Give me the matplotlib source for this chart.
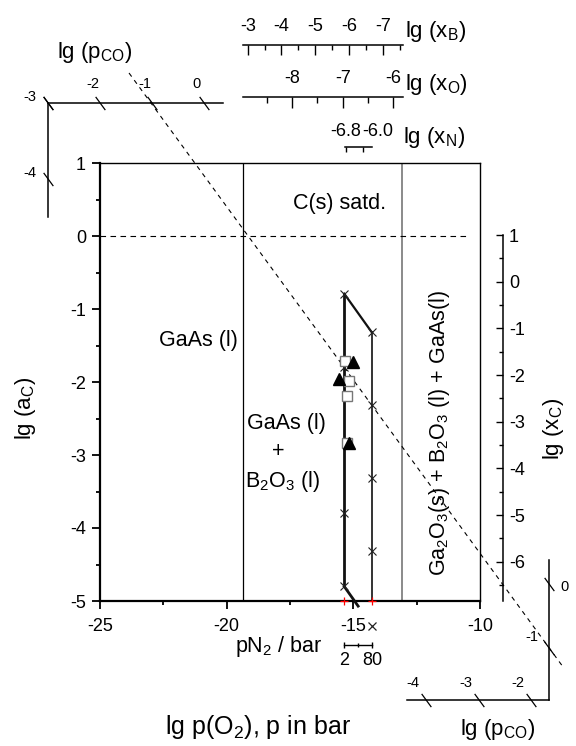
import numpy as np
import matplotlib
matplotlib.use("Agg")
import matplotlib.pyplot as plt
import matplotlib.transforms as mtransforms
from matplotlib.path import Path

plt.rcParams['font.family'] = ['Liberation Sans', 'DejaVu Sans']
plt.rcParams['mathtext.default'] = 'regular'
plt.rcParams['axes.unicode_minus'] = False

# ---------------- data ----------------
phase_boundary_x = [-19.34]          # GaAs(l) | GaAs(l)+B2O3(l)
ga2o3_boundary_x = [-13.09]          # -> Ga2O3(s)+B2O3(l)+GaAs(l)
c_satd_y = [0.0]
c_satd_x_end = -10.47

pn2_labels = ['2', '80']
pn2_x = [-15.36, -14.27]
cross_2bar_y = [-0.79, -1.79, -3.80, -4.80]
cross_80bar_y = [-1.32, -2.32, -3.32, -4.32]
tail_x, tail_y = [-14.81], [-5.07]

squares_x = [-15.34, -15.16, -15.24, -15.25]
squares_y = [-1.71, -1.98, -2.19, -2.84]
tri_x = [-15.00, -15.57, -15.16]
tri_y = [-1.72, -1.96, -2.84]

iso_pco_x = [-23.855, -6.72]
iso_pco_y = [2.233, -5.904]

main_xticks = [-25, -20, -15, -10]
main_yticks = [-5, -4, -3, -2, -1, 0, 1]

xB_ticks = [-3, -4, -5, -6, -7]
xO_ticks = [-8, -7, -6]
xN_ticks = [-6.8, -6.0]
xC_ticks = [-6, -5, -4, -3, -2, -1, 0, 1]

pco_tl_h = [-3, -2, -1, 0]
pco_tl_v = [-3, -4]
pco_br_h = [-4, -3, -2]
pco_br_v = [0, -1]

# ---------------- figure ----------------
W, H = 576, 746
fig = plt.figure(figsize=(W / 100, H / 100), dpi=100)
fig.patch.set_facecolor('white')

def fx(px):
    return px / W

def fy(py):
    return 1 - py / H

TL = 13      # tick label size
REG = 15.5   # region labels
BIG = 16     # axis titles

ax = fig.add_axes([fx(100), fy(601), 380 / W, 438 / H])
ax.set_xlim(-25, -10)
ax.set_ylim(-5, 1)
ax.set_xticks(main_xticks)
ax.set_xticks([-22.5, -17.5, -12.5], minor=True)
ax.set_yticks(main_yticks)
ax.set_yticks(np.arange(-4.5, 1, 1.0), minor=True)
ax.set_xticklabels([str(v) for v in main_xticks])
ax.set_yticklabels([str(v) for v in main_yticks])
ax.tick_params(which='major', direction='out', length=6, width=1.3, labelsize=TL, pad=4)
ax.tick_params(which='minor', direction='out', length=3, width=1.3)
ax.tick_params(axis='x', pad=6)
for s in ['top', 'right']:
    ax.spines[s].set_linewidth(1.0)
for s in ['left', 'bottom']:
    ax.spines[s].set_linewidth(1.6)

# phase boundaries
for xv in phase_boundary_x:
    ax.plot([xv, xv], [-5, 1], color='black', lw=0.9, zorder=2)
for xv in ga2o3_boundary_x:
    ax.plot([xv, xv], [-5, 1], color='#8a8a8a', lw=1.4, zorder=2)
for yv in c_satd_y:
    ax.plot([-25, c_satd_x_end], [yv, yv], color='black', lw=0.8, ls=(0, (5, 4)), zorder=2)

# iso p(CO) line
ax.plot(iso_pco_x, iso_pco_y, color='black', lw=0.8, ls=(0, (4, 4)), clip_on=False, zorder=3)

# pN2 lines
x2, x80 = pn2_x
ax.plot([x2, x2], [cross_2bar_y[0], cross_2bar_y[-1]], color='#111111', lw=2.0, zorder=4)
ax.plot([x2, x80], [cross_2bar_y[0], cross_80bar_y[0]], color='#111111', lw=1.6, zorder=4)
ax.plot([x80, x80], [cross_80bar_y[0], -5], color='#111111', lw=1.2, zorder=4)
ax.plot([x2, tail_x[0]], [cross_2bar_y[-1], tail_y[0]], color='#111111', lw=2.0, zorder=4, clip_on=False)
ax.plot([x2] * len(cross_2bar_y), cross_2bar_y, ls='none', marker='x', ms=6, mew=0.8, color='#222222', zorder=5)
ax.plot([x80] * len(cross_80bar_y), cross_80bar_y, ls='none', marker='x', ms=6, mew=0.8, color='#222222', zorder=5)
ax.plot(pn2_x, [-5, -5], ls='none', marker='+', ms=6, mew=0.9, color='red', zorder=6, clip_on=False)

# measurements
ax.plot(squares_x, squares_y, ls='none', marker='s', ms=7, mfc='white', mec='#777777', mew=1.0, zorder=6)
ax.plot(tri_x, tri_y, ls='none', marker='^', ms=8, mfc='black', mec='black', zorder=7)

# region labels
ax.text(-21.13, -1.425, 'GaAs (l)', fontsize=REG, ha='center', va='center')
ax.text(-15.53, 0.452, 'C(s) satd.', fontsize=REG, ha='center', va='center')
ax.text(-17.66, -2.562, 'GaAs (l)', fontsize=REG, ha='center', va='center')
ax.text(-17.96, -2.955, '+', fontsize=REG, ha='center', va='center')
ax.text(-17.78, -3.366, 'B$_2$O$_3$ (l)', fontsize=REG, ha='center', va='center')
ax.text(-11.58, -2.70, 'Ga$_2$O$_3$(s) + B$_2$O$_3$ (l) + GaAs(l)', fontsize=REG,
        ha='center', va='center', rotation=90)

# pN2 legend under axis
blend = mtransforms.blended_transform_factory(ax.transData, ax.transAxes)
ax.plot([x80], [-0.057], transform=blend, marker='x', ms=6, mew=0.9, color='#222222', clip_on=False)
yb = -0.1005
ax.plot(pn2_x, [yb, yb], transform=blend, color='black', lw=1.0, marker='|', ms=5, mew=1.0, clip_on=False)
ax.plot([np.mean(pn2_x)], [yb], transform=blend, color='black', marker='|', ms=2.5, mew=1.0, clip_on=False)
for xv, lab in zip(pn2_x, pn2_labels):
    ax.text(xv, -0.1363, lab, transform=blend, fontsize=TL, ha='center', va='center')

# ---------------- upper mole fraction axes ----------------
def top_axis(left, right, ytop, xlim, major, minor, maj_len, min_len, pad):
    a = fig.add_axes([fx(left), fy(ytop + 10), (right - left) / W, 10 / H])
    a.patch.set_visible(False)
    for s in ['bottom', 'left', 'right']:
        a.spines[s].set_visible(False)
    a.spines['top'].set_linewidth(1.1)
    a.set_xlim(*xlim)
    a.set_yticks([])
    a.xaxis.tick_top()
    a.set_xticks(major)
    if minor:
        a.set_xticks(minor, minor=True)
    a.tick_params(axis='x', which='major', direction='in', length=maj_len, width=1.0,
                  labelsize=TL, pad=pad)
    a.tick_params(axis='x', which='minor', direction='in', length=min_len, width=1.0)
    return a

axB = top_axis(243.3, 402.7, 45, (-2.87, -7.59), xB_ticks,
               [-3.5, -4.5, -5.5, -6.5, -7.5], 7.2, 3.6, 7.5)
axB.set_xticklabels([str(v) for v in xB_ticks])
axO = top_axis(243.3, 402.7, 97.3, (-8.97, -5.81), xO_ticks,
               [-8.5, -7.5, -6.5], 8.0, 4.0, 7.5)
axO.set_xticklabels([str(v) for v in xO_ticks])
axN = top_axis(345, 372.3, 146.7, (-6.848, -5.54), xN_ticks, None, 3.6, 3.6, 4.5)
labsN = axN.set_xticklabels([f'{v:.1f}' for v in xN_ticks])
labsN[0].set_ha('center')
labsN[1].set_ha('left')

fig.text(fx(405), fy(36.7), 'lg (x$_B$)', fontsize=BIG, ha='left', va='baseline')
fig.text(fx(405), fy(90), 'lg (x$_O$)', fontsize=BIG, ha='left', va='baseline')
fig.text(fx(403), fy(143), 'lg (x$_N$)', fontsize=BIG, ha='left', va='baseline')

# ---------------- right x_C axis ----------------
axC = fig.add_axes([fx(493.3), fy(601), 10 / W, (601 - 235) / H])
axC.patch.set_visible(False)
for s in ['bottom', 'left', 'top']:
    axC.spines[s].set_visible(False)
axC.spines['right'].set_linewidth(1.1)
axC.set_xticks([])
axC.set_ylim(-6.84, 1)
axC.yaxis.tick_right()
axC.set_yticks(xC_ticks)
axC.set_yticks(np.arange(-6.5, 1, 1.0), minor=True)
axC.set_yticklabels([str(v) for v in xC_ticks])
axC.tick_params(axis='y', which='major', direction='in', length=5, width=1.0, labelsize=TL, pad=4)
axC.tick_params(axis='y', which='minor', direction='in', length=3, width=1.0)
fig.text(fx(554), fy(429), 'lg (x$_C$)', fontsize=BIG, ha='center', va='center', rotation=90)

# ---------------- p(CO) frames ----------------
slash = Path([(-0.59, 0.807), (0.59, -0.807)], [Path.MOVETO, Path.LINETO])
PCO_FS = 10.5

axTL = fig.add_axes([fx(48), fy(217), (223 - 48) / W, (217 - 103) / H])
axTL.patch.set_visible(False)
for s in ['bottom', 'right']:
    axTL.spines[s].set_visible(False)
for s in ['top', 'left']:
    axTL.spines[s].set_linewidth(1.1)
axTL.set_xticks([])
axTL.set_yticks([])
axTL.set_xlim(-3, 0.375)
axTL.set_ylim(-4.5, -3)
axTL.plot(pco_tl_h, [-3] * len(pco_tl_h), ls='none', marker=slash, ms=9.5, mec='black', mew=0.9, clip_on=False)
axTL.plot([-3] * len(pco_tl_v), pco_tl_v, ls='none', marker=slash, ms=9.5, mec='black', mew=0.9, clip_on=False)
for v in pco_tl_h[1:]:
    axTL.annotate(str(v), (v, -3), xytext=(-5, 13.5), textcoords='offset points',
                  ha='center', va='center', fontsize=PCO_FS)
for v in pco_tl_v:
    axTL.annotate(str(v), (-3, v), xytext=(-13, 4.5), textcoords='offset points',
                  ha='center', va='center', fontsize=PCO_FS)
fig.text(fx(95), fy(58.3), 'lg (p$_{CO}$)', fontsize=BIG, ha='center', va='baseline')

axBR = fig.add_axes([fx(406.7), fy(700), (549.3 - 406.7) / W, (700 - 560) / H])
axBR.patch.set_visible(False)
for s in ['top', 'left']:
    axBR.spines[s].set_visible(False)
for s in ['bottom', 'right']:
    axBR.spines[s].set_linewidth(1.1)
axBR.set_xticks([])
axBR.set_yticks([])
axBR.set_xlim(-4.367, -1.658)
axBR.set_ylim(-1.8125, 0.375)
axBR.plot(pco_br_h, [-1.8125] * len(pco_br_h), ls='none', marker=slash, ms=9.5, mec='black', mew=0.9, clip_on=False)
axBR.plot([-1.658] * len(pco_br_v), pco_br_v, ls='none', marker=slash, ms=9.5, mec='black', mew=0.9, clip_on=False)
for v in pco_br_h:
    axBR.annotate(str(v), (v, -1.8125), xytext=(-9.4, 12.2), textcoords='offset points',
                  ha='center', va='center', fontsize=PCO_FS)
br_v_offsets = [(11.3, -2.4), (-12.7, 8.1)]
for v, off in zip(pco_br_v, br_v_offsets):
    axBR.annotate(str(v), (-1.658, v), xytext=off, textcoords='offset points',
                  ha='center', va='center', fontsize=PCO_FS)
fig.text(fx(498), fy(735), 'lg (p$_{CO}$)', fontsize=BIG, ha='center', va='baseline')

# ---------------- main axis titles ----------------
fig.text(fx(26), fy(408), 'lg (a$_C$)', fontsize=BIG, ha='center', va='center', rotation=90)
fig.text(fx(258), fy(734), 'lg p(O$_2$), p in bar', fontsize=18, ha='center', va='baseline')
fig.text(fx(279), fy(651.7), 'pN$_2$ / bar', fontsize=REG, ha='center', va='baseline')

fig.savefig('out.png', dpi=100, facecolor='white')
